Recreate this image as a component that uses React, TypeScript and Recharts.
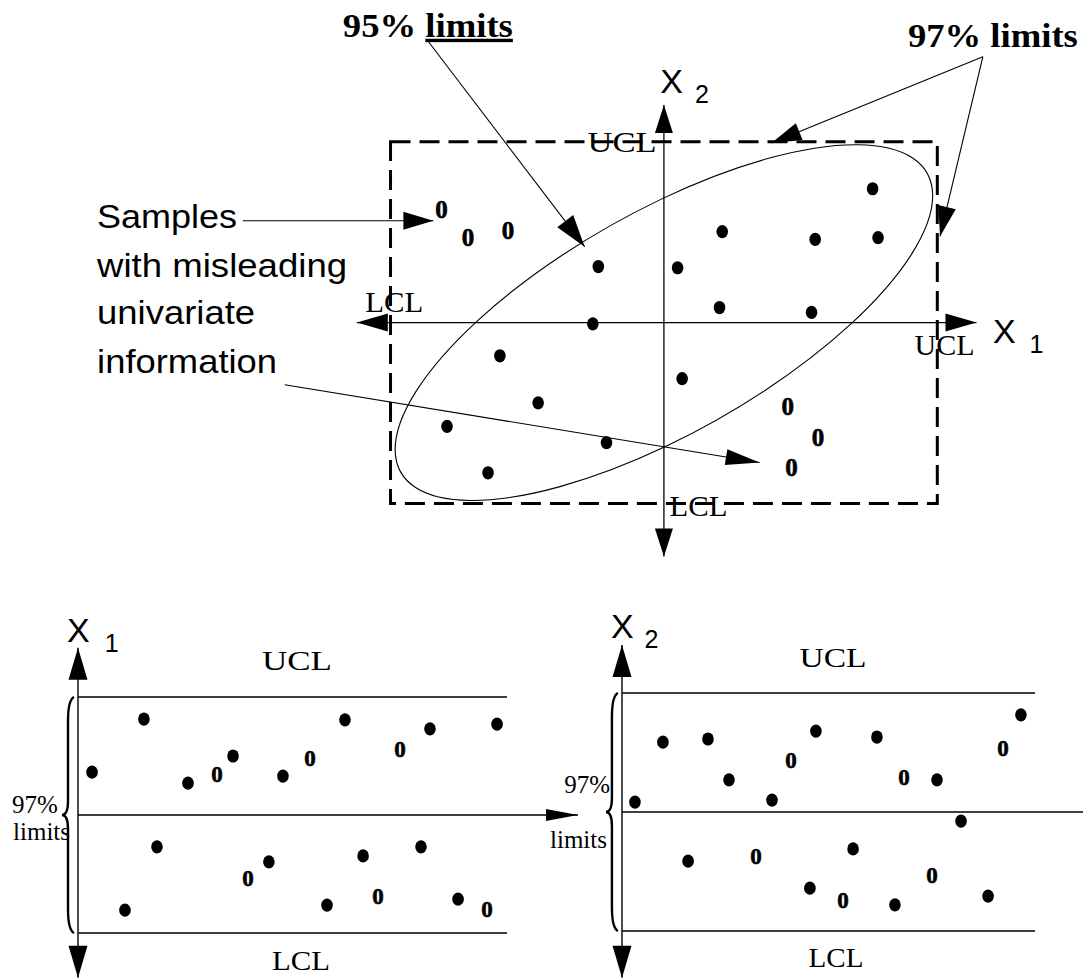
import React from "react";
import {
  ScatterChart,
  Scatter,
  XAxis,
  YAxis,
  ReferenceLine,
  ReferenceArea,
  ReferenceDot,
} from "recharts";

const SERIF = '"Liberation Serif", "Times New Roman", serif';
const SANS = '"Liberation Sans", Arial, sans-serif';

// joint chart (x1, x2), limits at +-3
const limitLow = -3;
const limitHigh = 3;

const jointNormal = [
  { x: -0.72, y: 0.93 },
  { x: 0.15, y: 0.91 },
  { x: 0.64, y: 1.51 },
  { x: 1.66, y: 1.38 },
  { x: 2.29, y: 2.22 },
  { x: 2.35, y: 1.41 },
  { x: 0.61, y: 0.25 },
  { x: 1.62, y: 0.17 },
  { x: -0.78, y: -0.02 },
  { x: -1.8, y: -0.55 },
  { x: 0.2, y: -0.93 },
  { x: -1.38, y: -1.33 },
  { x: -2.38, y: -1.72 },
  { x: -0.63, y: -1.99 },
  { x: -1.93, y: -2.49 },
];

const jointMisleading = [
  { x: -2.44, y: 1.87 },
  { x: -2.15, y: 1.41 },
  { x: -1.71, y: 1.53 },
  { x: 1.36, y: -1.39 },
  { x: 1.69, y: -1.91 },
  { x: 1.4, y: -2.4 },
];

// 95% ellipse in data units
const ellipseMajor = 3.86;
const ellipseMinor = 1.58;
const ellipseTilt = 45;

const sampleLines = ["Samples", "with misleading", "univariate", "information"];

// univariate charts: sample time vs value
const x1Normal = [
  { x: 0.72, y: 1.09 },
  { x: 2.41, y: -2.42 },
  { x: 3.38, y: 2.44 },
  { x: 4.05, y: -0.81 },
  { x: 5.64, y: 0.81 },
  { x: 7.95, y: 1.5 },
  { x: 9.79, y: -1.19 },
  { x: 10.51, y: 0.99 },
  { x: 12.77, y: -2.29 },
  { x: 13.69, y: 2.42 },
  { x: 14.62, y: -1.04 },
  { x: 17.59, y: -0.81 },
  { x: 18.05, y: 2.19 },
  { x: 19.49, y: -2.14 },
  { x: 21.49, y: 2.31 },
];
const x1Misleading = [
  { x: 7.13, y: 1.04 },
  { x: 8.72, y: -1.6 },
  { x: 11.9, y: 1.45 },
  { x: 15.38, y: -2.06 },
  { x: 16.51, y: 1.68 },
  { x: 20.97, y: -2.39 },
];

const x2Normal = [
  { x: 0.69, y: 0.25 },
  { x: 2.18, y: 1.76 },
  { x: 3.52, y: -1.24 },
  { x: 4.58, y: 1.84 },
  { x: 5.7, y: 0.81 },
  { x: 7.99, y: 0.3 },
  { x: 10.01, y: -1.92 },
  { x: 10.33, y: 2.04 },
  { x: 12.31, y: -0.93 },
  { x: 13.58, y: 1.89 },
  { x: 14.54, y: -2.34 },
  { x: 16.78, y: 0.81 },
  { x: 18.06, y: -0.23 },
  { x: 19.5, y: -2.12 },
  { x: 21.25, y: 2.45 },
];
const x2Misleading = [
  { x: 7.14, y: -1.13 },
  { x: 9.0, y: 1.29 },
  { x: 11.77, y: -2.22 },
  { x: 15.02, y: 0.88 },
  { x: 16.51, y: -1.59 },
  { x: 20.3, y: 1.61 },
];

const dotShape = (p: any) => (
  <ellipse cx={p.cx} cy={p.cy} rx={5.8} ry={6.6} fill="#000" />
);

const zeroShape = (size: number) => (p: any) => (
  <text
    x={p.cx}
    y={p.cy + size * 0.33}
    textAnchor="middle"
    fontFamily={SERIF}
    fontWeight="bold"
    fontSize={size}
    fill="#000"
    stroke="#000"
    strokeWidth={0.6}
  >
    0
  </text>
);

function arrowShape(head: number, half: number, both = false, width = 1.1) {
  return (p: any) => {
    const { x1, y1, x2, y2 } = p;
    const len = Math.hypot(x2 - x1, y2 - y1) || 1;
    const ux = (x2 - x1) / len;
    const uy = (y2 - y1) / len;
    const tri = (tx: number, ty: number, dx: number, dy: number) => {
      const bx = tx - dx * head;
      const by = ty - dy * head;
      return `${tx},${ty} ${bx - dy * half},${by + dx * half} ${bx + dy * half},${by - dx * half}`;
    };
    return (
      <g>
        <line x1={x1} y1={y1} x2={x2} y2={y2} stroke="#000" strokeWidth={width} />
        <polygon points={tri(x2, y2, ux, uy)} fill="#000" />
        {both && <polygon points={tri(x1, y1, -ux, -uy)} fill="#000" />}
      </g>
    );
  };
}

const arrow = (
  key: string,
  from: [number, number],
  to: [number, number],
  head = 30,
  half = 9,
  both = false,
  width = 1.1
) => (
  <ReferenceLine
    key={key}
    segment={[
      { x: from[0], y: from[1] },
      { x: to[0], y: to[1] },
    ]}
    ifOverflow="visible"
    shape={arrowShape(head, half, both, width)}
  />
);

type TextOpts = {
  size: number;
  family?: string;
  weight?: string;
  anchor?: "start" | "middle" | "end";
  length?: number;
};

const note = (key: string, x: number, y: number, content: React.ReactNode, o: TextOpts) => (
  <ReferenceDot
    key={key}
    x={x}
    y={y}
    r={1}
    ifOverflow="visible"
    shape={(p: any) => (
      <text
        x={p.cx}
        y={p.cy}
        fontSize={o.size}
        fontFamily={o.family ?? SERIF}
        fontWeight={o.weight ?? "normal"}
        textAnchor={o.anchor ?? "start"}
        fill="#000"
        {...(o.length ? { textLength: o.length, lengthAdjust: "spacingAndGlyphs" } : {})}
      >
        {content}
      </text>
    )}
  />
);

const braceShape = (p: any) => {
  const x = p.x1;
  const top = Math.min(p.y1, p.y2);
  const bot = Math.max(p.y1, p.y2);
  const mid = (top + bot) / 2;
  const d = `M ${x + 4} ${top} Q ${x - 2} ${top + 3} ${x - 2} ${top + 24} L ${x - 2} ${mid - 14} Q ${x - 2} ${mid} ${x - 8} ${mid} Q ${x - 2} ${mid} ${x - 2} ${mid + 14} L ${x - 2} ${bot - 24} Q ${x - 2} ${bot - 3} ${x + 4} ${bot}`;
  return <path d={d} fill="none" stroke="#000" strokeWidth={2.4} />;
};

const ellipseShape = (p: any) => {
  const cx = p.x + p.width / 2;
  const cy = p.y + p.height / 2;
  return (
    <g transform={`translate(${cx},${cy}) scale(${p.width / 2},${-p.height / 2})`}>
      <ellipse
        rx={ellipseMajor}
        ry={ellipseMinor}
        transform={`rotate(${ellipseTilt})`}
        fill="none"
        stroke="#000"
        strokeWidth={1.1}
        vectorEffect="non-scaling-stroke"
      />
    </g>
  );
};

function JointChart() {
  return (
    <div style={{ position: "absolute", left: 0, top: 0 }}>
      <ScatterChart width={1083} height={600} margin={{ top: 6, right: 9, bottom: 6, left: 26 }}>
        <XAxis type="number" dataKey="x" domain={[-7, 4.5]} hide allowDataOverflow />
        <YAxis type="number" dataKey="y" domain={[-4.5, 5.25]} hide allowDataOverflow />
        <ReferenceArea
          x1={limitLow}
          x2={limitHigh}
          y1={limitLow}
          y2={limitHigh}
          ifOverflow="visible"
          fill="none"
          fillOpacity={0}
          stroke="#000"
          strokeWidth={3}
          strokeDasharray="20 9"
        />
        <ReferenceArea x1={-1} x2={1} y1={-1} y2={1} ifOverflow="visible" shape={ellipseShape} />
        {arrow("ax1", [-3.37, 0], [3.43, 0], 31, 9, true, 1.3)}
        {arrow("ax2", [0, 3.61], [0, -3.88], 28, 9, true, 1.3)}
        {arrow("a95", [-2.6, 4.69], [-0.87, 1.26], 32, 10)}
        {arrow("a97a", [3.5, 4.41], [1.18, 2.98], 30, 9)}
        {arrow("a97b", [3.5, 4.41], [3.03, 1.43], 30, 9)}
        {arrow("aSam", [-4.62, 1.69], [-2.53, 1.69], 30, 9)}
        {arrow("aInf", [-4.16, -1.03], [1.05, -2.32], 34, 8)}
        <Scatter data={jointNormal} shape={dotShape} isAnimationActive={false} />
        <Scatter data={jointMisleading} shape={zeroShape(25)} isAnimationActive={false} />
        {note("t95", -2.59, 4.74, <>95% <tspan style={{ textDecoration: "underline" }}>limits</tspan></>, {
          size: 34,
          weight: "bold",
          anchor: "middle",
          length: 170,
        })}
        {note("t97", 3.61, 4.57, "97% limits", { size: 34, weight: "bold", anchor: "middle", length: 170 })}
        {note("ucl", -0.46, 2.83, "UCL", { size: 30, anchor: "middle", length: 69 })}
        {note("lclL", -2.96, 0.17, "LCL", { size: 30, anchor: "middle", length: 58 })}
        {note("uclR", 3.08, -0.53, "UCL", { size: 30, anchor: "middle", length: 60 })}
        {note("lclB", 0.38, -3.2, "LCL", { size: 30, anchor: "middle", length: 58 })}
        {note(
          "x2",
          -0.04,
          3.81,
          <>
            X<tspan dx={12} dy={10} fontSize={25}>2</tspan>
          </>,
          { size: 34, family: SANS }
        )}
        {note(
          "x1",
          3.61,
          -0.33,
          <>
            X<tspan dx={14} dy={10} fontSize={25}>1</tspan>
          </>,
          { size: 34, family: SANS }
        )}
        {sampleLines.map((line, i) =>
          note(`s${i}`, -6.22, [1.57, 0.75, -0.03, -0.83][i], line, {
            size: 34,
            family: SANS,
            length: [140, 250, 158, 180][i],
          })
        )}
      </ScatterChart>
    </div>
  );
}

type ControlProps = {
  left: number;
  margin: { top: number; right: number; bottom: number; left: number };
  width: number;
  normal: { x: number; y: number }[];
  odd: { x: number; y: number }[];
  axisTop: number;
  axisBottom: number;
  centerEnd: number;
  centerArrow: boolean;
  sub: string;
  xLabel: [number, number];
  subDx: number;
  ucl: [number, number, number];
  lcl: [number, number, number];
  pct: [number, number];
  lim: [number, number];
  anchor: "start" | "end";
  braceX: number;
};

function ControlChart(c: ControlProps) {
  return (
    <div style={{ position: "absolute", left: c.left, top: 600 }}>
      <ScatterChart width={c.width} height={380} margin={c.margin}>
        <XAxis type="number" dataKey="x" domain={[0, 22]} hide allowDataOverflow />
        <YAxis type="number" dataKey="y" domain={[limitLow, limitHigh]} hide allowDataOverflow />
        <ReferenceLine
          segment={[
            { x: 0, y: limitHigh },
            { x: 22, y: limitHigh },
          ]}
          ifOverflow="visible"
          stroke="#000"
          strokeWidth={1.5}
        />
        <ReferenceLine
          segment={[
            { x: 0, y: limitLow },
            { x: 22, y: limitLow },
          ]}
          ifOverflow="visible"
          stroke="#000"
          strokeWidth={1.5}
        />
        {c.centerArrow ? (
          arrow("cl", [0, 0], [c.centerEnd, 0], 32, 6, false, 1.5)
        ) : (
          <ReferenceLine
            segment={[
              { x: 0, y: 0 },
              { x: c.centerEnd, y: 0 },
            ]}
            ifOverflow="visible"
            stroke="#000"
            strokeWidth={1.5}
          />
        )}
        {arrow("ax", [0, c.axisTop], [0, c.axisBottom], 32, 9.5, true, 1.4)}
        <ReferenceLine
          segment={[
            { x: c.braceX, y: limitHigh },
            { x: c.braceX, y: limitLow },
          ]}
          ifOverflow="visible"
          shape={braceShape}
        />
        <Scatter data={c.normal} shape={dotShape} isAnimationActive={false} />
        <Scatter data={c.odd} shape={zeroShape(23)} isAnimationActive={false} />
        {note("ucl", c.ucl[0], c.ucl[1], "UCL", { size: 27, anchor: "middle", length: c.ucl[2] })}
        {note("lcl", c.lcl[0], c.lcl[1], "LCL", { size: 27, anchor: "middle", length: c.lcl[2] })}
        {note(
          "xl",
          c.xLabel[0],
          c.xLabel[1],
          <>
            X<tspan dx={c.subDx} dy={10} fontSize={25}>{c.sub}</tspan>
          </>,
          { size: 34, family: SANS }
        )}
        {note("pct", c.pct[0], c.pct[1], "97%", { size: 25, anchor: c.anchor })}
        {note("lim", c.lim[0], c.lim[1], "limits", { size: 25, anchor: c.anchor })}
      </ScatterChart>
    </div>
  );
}

export default function App() {
  return (
    <div
      style={{
        position: "absolute",
        left: 0,
        top: 0,
        width: 1083,
        height: 980,
        background: "#fff",
        overflow: "hidden",
      }}
    >
      <JointChart />
      <ControlChart
        left={0}
        width={590}
        margin={{ top: 97, right: 83, bottom: 47, left: 78 }}
        normal={x1Normal}
        odd={x1Misleading}
        axisTop={4.25}
        axisBottom={-4.14}
        centerEnd={25.64}
        centerArrow={true}
        sub="1"
        xLabel={[-0.56, 4.4]}
        subDx={15}
        ucl={[11.23, 3.69, 70]}
        lcl={[11.44, -3.94, 58]}
        pct={[-3.38, 0.05]}
        lim={[-3.33, -0.64]}
        anchor="start"
        braceX={-0.41}
      />
      <ControlChart
        left={540}
        width={543}
        margin={{ top: 93, right: 48, bottom: 49, left: 82 }}
        normal={x2Normal}
        odd={x2Misleading}
        axisTop={4.21}
        axisBottom={-4.18}
        centerEnd={24.6}
        centerArrow={false}
        sub="2"
        xLabel={[-0.59, 4.39]}
        subDx={11}
        ucl={[11.24, 3.66, 67]}
        lcl={[11.4, -3.91, 55]}
        pct={[-0.64, 0.48]}
        lim={[-0.8, -0.91]}
        anchor="end"
        braceX={-0.43}
      />
    </div>
  );
}
